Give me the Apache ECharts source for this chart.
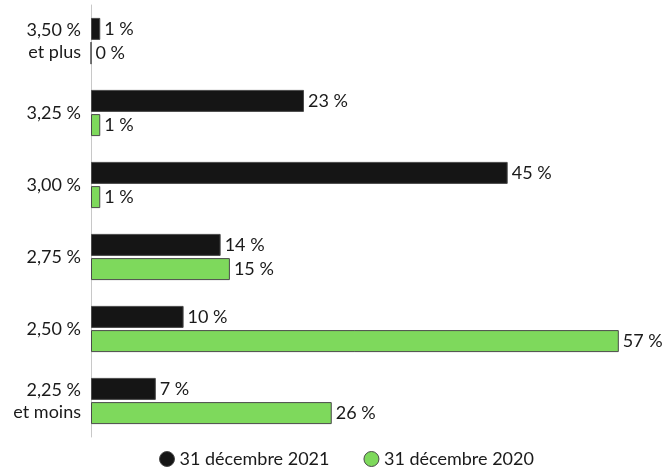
<!DOCTYPE html>
<html><head><meta charset="utf-8">
<script src="https://cdn.jsdelivr.net/npm/echarts@6/dist/echarts.min.js"></script>
<style>html,body{margin:0;padding:0;background:#fff}#c{width:668px;height:473px}</style>
</head><body><div id="c"></div>
<script>
const categories = ['2,25 %\net moins', '2,50 %', '2,75 %', '3,00 %', '3,25 %', '3,50 %\net plus'];
const seriesNames = ['31 décembre 2021', '31 décembre 2020'];
const values2021 = [7, 10, 14, 45, 23, 1];
const values2020 = [26, 57, 15, 1, 1, 0];

const font = 'Lato';
const chart = echarts.init(document.getElementById('c'), null, {renderer: 'canvas'});
const lbl = {show: true, position: 'right', distance: 4, color: '#1a1a1a', fontSize: 18, fontFamily: font, formatter: p => p.value + ' %'};
chart.setOption({
  animation: false,
  grid: {left: 91, top: 5, width: 555.6, height: 432, containLabel: false},
  xAxis: {type: 'value', min: 0, max: 60, show: false},
  yAxis: {
    type: 'category', data: categories,
    axisLine: {show: true, lineStyle: {color: '#c8c8c8', width: 1}},
    axisTick: {show: false},
    axisLabel: {color: '#1a1a1a', fontSize: 18, fontFamily: font, margin: 10, lineHeight: 22, align: 'right'}
  },
  legend: {
    data: seriesNames, bottom: 0, left: 154, icon: 'circle', itemWidth: 15, itemHeight: 15, itemGap: 34, itemStyle: {borderWidth: 1},
    textStyle: {color: '#1a1a1a', fontSize: 18, fontFamily: font}
  },
  series: [
    {name: seriesNames[0], type: 'bar', data: values2021, barWidth: 22, barGap: '10%',
     itemStyle: {color: '#151515', borderColor: '#4a4a4a', borderWidth: 1}, label: lbl},
    {name: seriesNames[1], type: 'bar', data: values2020, barWidth: 22, barGap: '10%',
     itemStyle: {color: '#7ed95c', borderColor: '#4a4a4a', borderWidth: 1}, label: lbl}
  ]
});
</script></body></html>
